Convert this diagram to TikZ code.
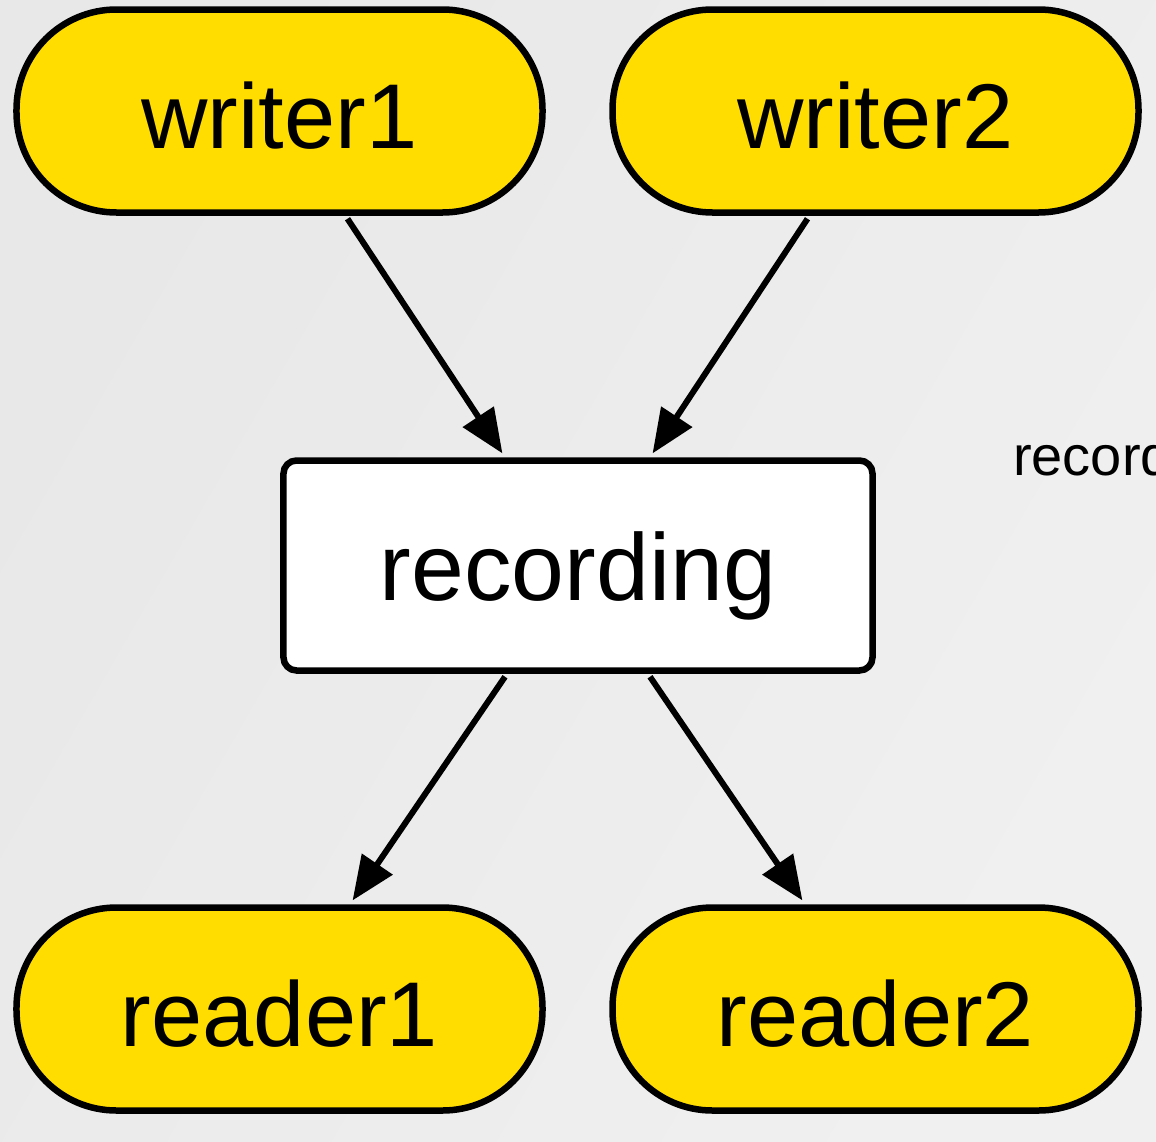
\documentclass[tikz,border=0pt]{standalone}
\usepackage{fontspec}
\setmainfont{Liberation Sans}
\usetikzlibrary{arrows.meta,calc}
\definecolor{nodeyellow}{RGB}{255,221,0}
\definecolor{bgA}{RGB}{232,232,232}
\definecolor{bgB}{RGB}{240,240,240}
\tikzset{
  x=1bp, y=-1bp,
  term/.style={draw=black, fill=nodeyellow, line width=6.5bp, rounded corners=100bp,
    minimum width=526bp, minimum height=203bp, inner sep=0pt,
    text height=74bp, text depth=0pt,
    font=\fontsize{92bp}{110bp}\selectfont},
  procbox/.style={draw=black, fill=white, line width=6.5bp, rounded corners=13bp,
    minimum width=589bp, minimum height=210bp, inner sep=0pt,
    text height=69bp, text depth=0pt,
    font=\fontsize{95bp}{114bp}\selectfont},
  flow/.style={line width=6bp, -{Triangle[length=44bp,width=36bp]}, shorten >=1bp},
}
\begin{document}
\begin{tikzpicture}
\clip (0,0) rectangle (1156,1142);
\shade[left color=bgA, right color=bgB, shading angle=60] (0,0) rectangle (1156,1142);
\useasboundingbox (0,0) rectangle (1156,1142);
\node[term] (w1) at (279.5,111) {writer1};
\node[term] (w2) at (875.5,111) {writer2};
\node[procbox] (rec) at (578,565.5) {recording};
\node[term] (r1) at (279.5,1009) {reader1};
\node[term] (r2) at (875.5,1009) {reader2};
\node[anchor=base west, inner sep=0pt, font=\fontsize{56bp}{66bp}\selectfont] (lbl) at (1013,475) {recording};
\draw[flow] ($(w1.south)+(68,3)$) -- ($(rec.north)+(-75,-3)$);
\draw[flow] ($(w2.south)+(-68,3)$) -- ($(rec.north)+(74,-3)$);
\draw[flow] ($(rec.south)+(-73,3)$) -- ($(r1.north)+(72.5,-3)$);
\draw[flow] ($(rec.south)+(72,3)$) -- ($(r2.north)+(-72.5,-3)$);
\end{tikzpicture}
\end{document}
